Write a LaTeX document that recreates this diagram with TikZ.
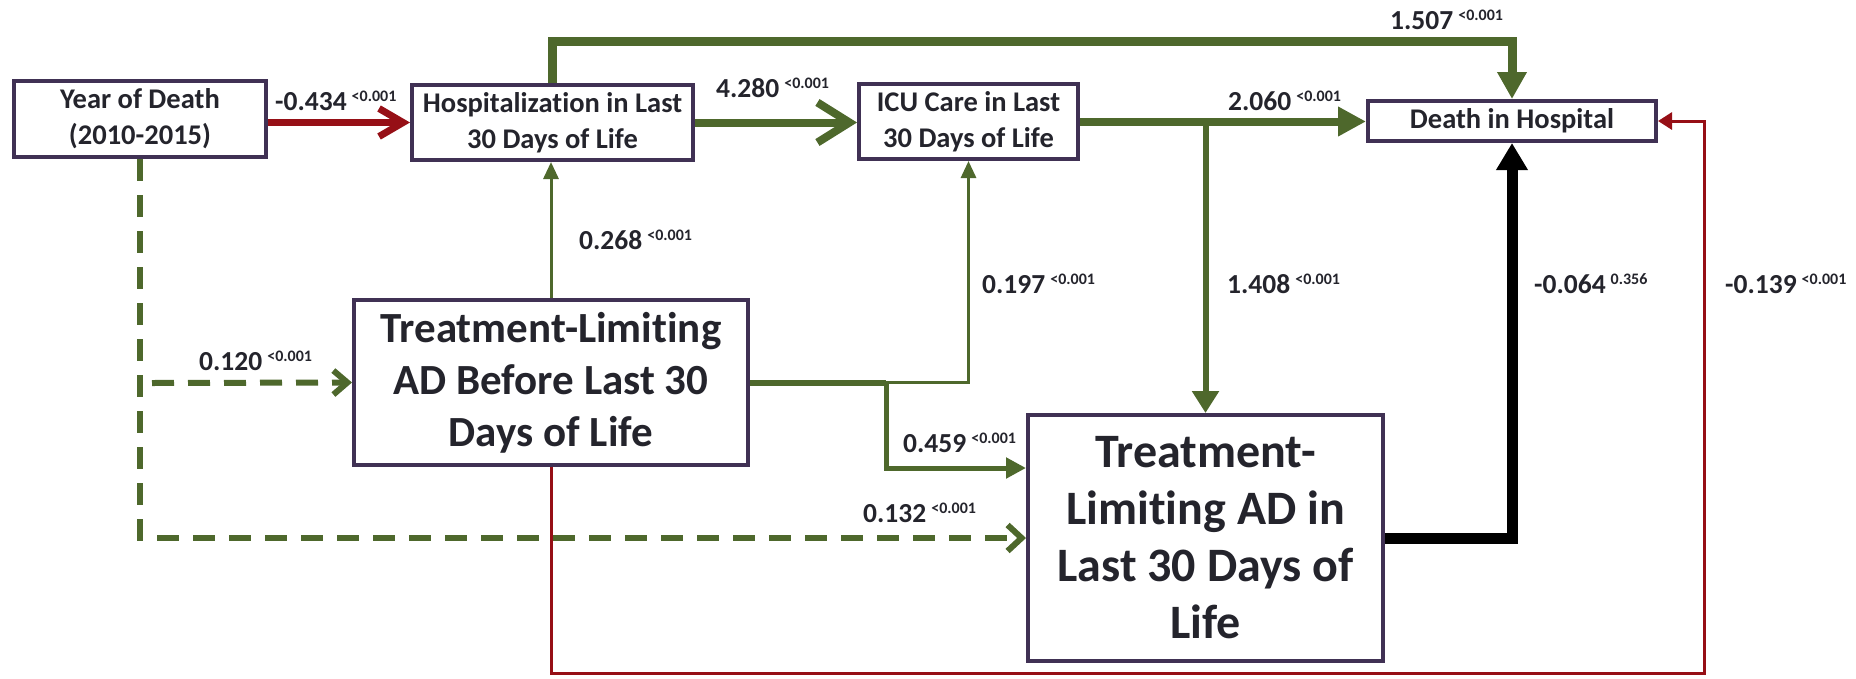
\documentclass[tikz,border=0pt]{standalone}
\usepackage{fontspec}
\setmainfont{Carlito}[Ligatures=NoCommon]
\usetikzlibrary{arrows.meta}
\definecolor{grn}{RGB}{78,104,44}
\definecolor{rd}{RGB}{150,15,22}
\definecolor{bx}{RGB}{64,49,84}
\definecolor{txt}{RGB}{36,36,44}
\newcommand\pv[2]{#1\hspace{5pt}\raisebox{9pt}{\fontsize{16}{16}\selectfont #2}}
\begin{document}
\begin{tikzpicture}[x=1pt,y=-1pt,
  box/.style={draw=bx,line width=4pt,fill=white,text=txt,align=center,inner sep=0pt},
  small/.style={box,font=\fontsize{28.5}{36}\selectfont\bfseries},
  lbl/.style={anchor=base west,inner sep=0pt,text=txt,font=\fontsize{27.5}{30}\selectfont\bfseries},
]
\useasboundingbox (0,0) rectangle (1856,678);
% boxes
\node[small,minimum width=252pt,minimum height=76pt] (year) at (140,119) {Year of Death\\(2010-2015)};
\node[small,minimum width=281pt,minimum height=75pt] (hosp) at (552.5,122.5) {Hospitalization in Last\\30 Days of Life};
\node[small,minimum width=219pt,minimum height=75pt] (icu) at (968.5,121.5) {ICU Care in Last\\30 Days of Life};
\node[small,minimum width=288pt,minimum height=40pt] (death) at (1512,121) {Death in Hospital};
\node[box,minimum width=394pt,minimum height=165pt,font=\fontsize{43}{52}\selectfont\bfseries] (b5) at (551,382.5) {Treatment-Limiting\\AD Before Last 30\\Days of Life};
\node[box,minimum width=355pt,minimum height=246pt,font=\fontsize{48}{57}\selectfont\bfseries] (b6) at (1205.5,538) {Treatment-\\Limiting AD in\\Last 30 Days of\\Life};
% helper coordinates
\coordinate (top) at (0,41);
\coordinate (j2) at (886,382.5);
\coordinate (d1) at (152,383);
\coordinate (bot) at (1704,673);
% connectors
\draw[rd,line width=7pt,-{Straight Barb[length=24pt,width=28pt]}] (year.east |- hosp.west) -- (hosp.west);
\draw[grn,line width=8pt,-{Straight Barb[length=32pt,width=40pt]}] (hosp.east) -- (hosp.east -| icu.west);
\draw[grn,line width=8pt,-{Triangle[length=28pt,width=28pt]}] (icu.east) -- (icu.east -| death.west);
\draw[grn,line width=9pt,-{Triangle[length=27pt,width=28pt]}] (hosp.north) -- (hosp.north |- top) -| (death.north);
\draw[grn,line width=6pt,-{Triangle[length=22pt,width=26pt]}] (b6.north |- icu.east) -- (b6.north);
\draw[grn,line width=3pt,-{Triangle[length=17pt,width=15pt]}] (b5.north) -- (b5.north |- hosp.south);
\draw[grn,line width=6pt] (b5.east) -- (j2);
\draw[grn,line width=3pt,-{Triangle[length=17pt,width=15pt]}] (j2) -| (icu.south);
\draw[grn,line width=5pt,-{Triangle[length=20pt,width=20pt]}] (j2) |- ([yshift=70pt]b6.west);
\draw[grn,line width=6pt,dash pattern=on 22pt off 14pt,-{Straight Barb[length=14pt,width=26pt]}] (year.south) |- (b6.west);
\draw[grn,line width=6pt,dash pattern=on 22pt off 14pt,-{Straight Barb[length=14pt,width=24pt]}] (d1) -- (b5.west);
\draw[black,line width=11pt,-{Triangle[length=27pt,width=30pt]}] (b6.east) -| (death.south);
\draw[rd,line width=3pt,-{Triangle[length=14pt,width=17pt]}] (b5.south) |- (bot) |- (death.east);
% labels
\node[lbl] (l434) at (275,110) {\pv{-0.434}{<0.001}};
\node[lbl] (l4280) at (716,97) {\pv{4.280}{<0.001}};
\node[lbl] (l2060) at (1228,110) {\pv{2.060}{<0.001}};
\node[lbl] (l1507) at (1390,29) {\pv{1.507}{<0.001}};
\node[lbl] (l268) at (579,249) {\pv{0.268}{<0.001}};
\node[lbl] (l197) at (982,293) {\pv{0.197}{<0.001}};
\node[lbl] (l1408) at (1227,293) {\pv{1.408}{<0.001}};
\node[lbl] (l064) at (1534,293) {\pv{-0.064}{0.356}};
\node[lbl] (l139) at (1725,293) {\pv{-0.139}{<0.001}};
\node[lbl] (l120) at (199,370) {\pv{0.120}{<0.001}};
\node[lbl] (l459) at (903,452) {\pv{0.459}{<0.001}};
\node[lbl] (l132) at (863,522) {\pv{0.132}{<0.001}};
\end{tikzpicture}
\end{document}
